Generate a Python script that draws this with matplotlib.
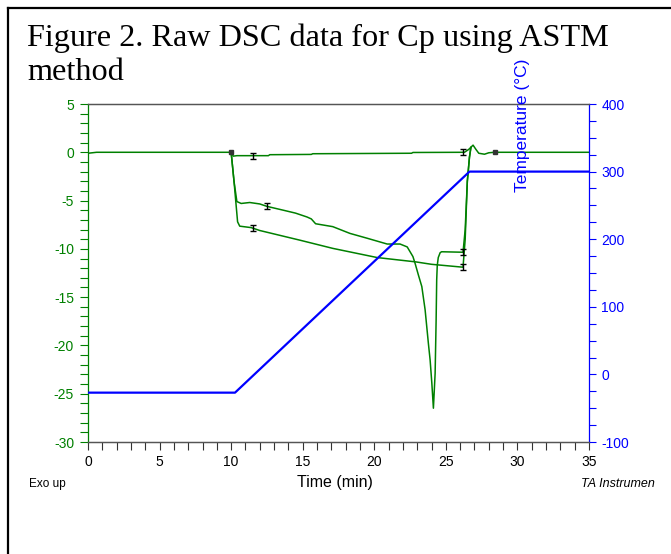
import matplotlib
matplotlib.use("Agg")
import matplotlib.pyplot as plt
from matplotlib.lines import Line2D
from matplotlib.ticker import MultipleLocator
from matplotlib import font_manager
from matplotlib.transforms import Bbox

# ---------------- data ----------------
time_base = [0, 0.6, 10.0, 10.15, 10.4, 12.6, 12.7, 15.6, 15.7, 22.6, 22.7, 26.3,
             26.6, 26.9, 27.1, 27.3, 27.7, 28.0, 28.4, 35]
hf_base = [-0.1, 0.0, 0.0, -0.4, -0.35, -0.35, -0.25, -0.22, -0.15, -0.1, -0.02, 0.0,
           0.3, 0.74, 0.3, -0.1, -0.2, -0.05, 0.0, 0.0]

time_ref = [10.0, 10.2, 10.45, 10.6, 11.4, 12.0, 14.8, 17.1, 20.2, 22.9, 24.0, 26.2,
            26.35, 26.5, 26.65, 26.75]
hf_ref = [0.0, -3.0, -7.2, -7.65, -7.8, -8.1, -9.1, -9.95, -10.9, -11.35, -11.6, -11.9,
          -9.0, -3.0, -0.5, 0.5]

time_sample = [10.0, 10.2, 10.4, 10.7, 11.3, 12.0, 12.5, 13.65, 14.5, 15.3, 15.6, 15.9,
               17.1, 18.3, 19.5, 20.9, 21.8, 22.3, 22.7, 22.85, 23.08, 23.32, 23.55,
               23.78, 23.9, 24.02, 24.13, 24.25, 24.32, 24.36, 24.4, 24.47, 24.6, 24.7,
               26.2, 26.35, 26.5, 26.65, 26.75]
hf_sample = [0.0, -3.0, -5.1, -5.3, -5.2, -5.35, -5.6, -6.0, -6.3, -6.7, -6.9, -7.4,
             -7.7, -8.4, -8.9, -9.5, -9.5, -9.8, -10.8, -11.5, -12.7, -13.9, -16.3,
             -19.8, -21.5, -23.9, -26.5, -22.9, -17.4, -13.2, -11.7, -10.9, -10.4, -10.3,
             -10.35, -8.0, -3.0, -0.5, 0.5]

time_temp = [0, 10.27, 26.65, 35]
temp_c = [-27, -27, 300, 300]

cursor_t = [11.5, 26.2, 12.5, 26.2, 11.5, 26.2]
cursor_hf = [-0.35, 0.0, -5.6, -10.35, -7.8, -11.9]
square_t = [10.0, 28.45]
square_hf = [0.0, 0.0]

x_ticks = [0, 5, 10, 15, 20, 25, 30, 35]
left_ticks = [5, 0, -5, -10, -15, -20, -25, -30]
right_ticks = [400, 300, 200, 100, 0, -100]

# ---------------- style ----------------
names = {f.name for f in font_manager.fontManager.ttflist}
narrow = 'Liberation Sans Narrow' if 'Liberation Sans Narrow' in names else 'Liberation Sans'
plt.rcParams['font.family'] = ['Liberation Sans', 'DejaVu Sans']
plt.rcParams['axes.unicode_minus'] = False

GREEN = '#008000'
BLUE = '#0000ff'

W, H = 671, 554
fig = plt.figure(figsize=(W / 100, H / 100), dpi=100)
ax = fig.add_axes([88 / W, 1 - 442 / H, (589 - 88) / W, (442 - 104) / H])
ax2 = ax.twinx()

ax.plot(time_base, hf_base, color=GREEN, lw=1.1, zorder=3)
ax.plot(time_ref, hf_ref, color=GREEN, lw=1.1, zorder=3)
ax.plot(time_sample, hf_sample, color=GREEN, lw=1.1, zorder=3)
ax.errorbar(cursor_t, cursor_hf, yerr=0.3, fmt='none', ecolor='black',
            elinewidth=1.0, capsize=2.5, capthick=1.0, zorder=4)
ax.plot(square_t, square_hf, ls='none', marker='s', ms=3.5, color='#333333', zorder=4)

ax2.plot(time_temp, temp_c, color=BLUE, lw=1.6, zorder=2)

ax.set_xlim(0, 35)
ax.set_ylim(-30, 5)
ax2.set_ylim(-100, 400)

ax.set_xticks(x_ticks)
ax.xaxis.set_minor_locator(MultipleLocator(1))
ax.set_yticks(left_ticks)
ax.yaxis.set_minor_locator(MultipleLocator(1))
ax2.set_yticks(right_ticks)
ax2.yaxis.set_minor_locator(MultipleLocator(25))

ax.tick_params(axis='x', which='both', direction='out', length=6, width=0.8,
               color='#333333', labelsize=10, pad=3, labelcolor='black')
ax.tick_params(axis='y', which='both', direction='out', length=6, width=0.8,
               color=GREEN, labelsize=10, pad=4, labelcolor=GREEN)
ax2.tick_params(axis='y', which='both', direction='out', length=5, width=0.8,
                color=BLUE, labelsize=10, pad=4, labelcolor=BLUE)

for a in (ax, ax2):
    a.spines['top'].set_color('#555555')
    a.spines['bottom'].set_color('#555555')
    a.spines['left'].set_color(GREEN)
    a.spines['right'].set_color(BLUE)
    for s in a.spines.values():
        s.set_linewidth(0.9)
ax2.spines['left'].set_visible(False)
ax.spines['right'].set_visible(False)

# right axis label, overlapping the plot like the original
fig.text(522 / W, 1 - 125 / H, 'Temperature (°C)', rotation=90, color=BLUE,
         fontsize=12.5, ha='center', va='center')

# title
fig.text(27 / W, 1 - 46 / H, 'Figure 2. Raw DSC data for Cp using ASTM',
         family=['Liberation Serif', 'DejaVu Serif'], fontsize=23.2,
         ha='left', va='baseline')
fig.text(27 / W, 1 - 80 / H, 'method',
         family=['Liberation Serif', 'DejaVu Serif'], fontsize=23.2,
         ha='left', va='baseline')

# bottom texts
fig.text(335 / W, 1 - 483 / H, 'Time (min)', family=[narrow, 'DejaVu Sans'],
         fontsize=11.5, ha='center', va='center')
fig.text(29 / W, 1 - 484 / H, 'Exo up', family=[narrow, 'DejaVu Sans'],
         fontsize=8.5, ha='left', va='center')
ta = fig.text(581 / W, 1 - 484 / H, 'TA Instruments', family=[narrow, 'DejaVu Sans'],
              fontsize=9, style='italic', ha='left', va='center')
ta.set_clip_box(Bbox.from_extents(0, 0, 655, H))
ta.set_clip_on(True)

# page border (left and top edges)
fig.add_artist(Line2D([7.5 / W, 7.5 / W], [0, 1 - 8 / H], transform=fig.transFigure,
                      color='black', lw=1.6))
fig.add_artist(Line2D([7.5 / W, 1], [1 - 8 / H, 1 - 8 / H], transform=fig.transFigure,
                      color='black', lw=1.6))

fig.savefig('out.png', dpi=100)
